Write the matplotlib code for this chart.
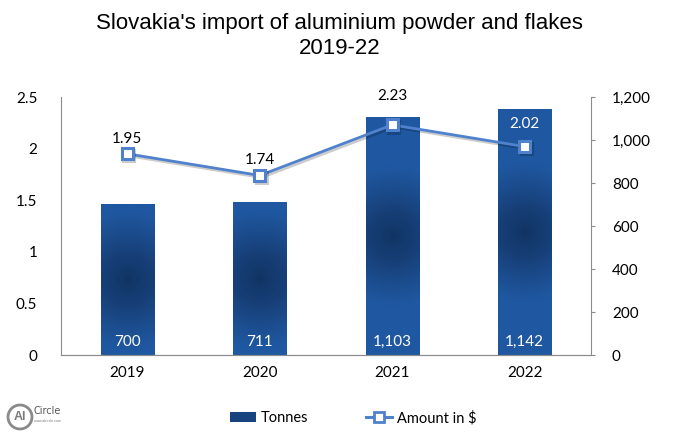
import numpy as np
import matplotlib.pyplot as plt
import matplotlib.patheffects as pe
from matplotlib.colors import LinearSegmentedColormap
from matplotlib.patches import Patch, Ellipse
from matplotlib.lines import Line2D

# data
years = ["2019", "2020", "2021", "2022"]
tonnes = [700, 711, 1103, 1142]
amount = [1.95, 1.74, 2.23, 2.02]
tonne_labels = ["700", "711", "1,103", "1,142"]

line_col = "#4f81cc"
bar_dark = "#0f3361"
bar_light = "#1f58a1"
grad = LinearSegmentedColormap.from_list("g", [bar_dark, "#173f77", bar_light])

fig = plt.figure(figsize=(6.79, 4.4), dpi=100)
ax = fig.add_axes([0.0898, 0.193, 0.7806, 0.5865])
ax2 = ax.twinx()
ax.set_zorder(ax2.get_zorder() + 1)
ax.patch.set_visible(False)

x = np.arange(len(years))
bw = 0.4

# bars on the right (tonnes) axis, with a radial gradient fill
bars = ax2.bar(x, tonnes, width=bw, color="none", edgecolor="none")
yy, xx = np.mgrid[-1:1:200j, -1:1:80j]
for b in bars:
    x0, w, h = b.get_x(), b.get_width(), b.get_height()
    # scale distances so the dark spot is roughly round
    sy = (h / 1200) * 258 / 2
    sx = w * 132.5 / 2
    d = np.sqrt((xx * sx) ** 2 + (yy * sy) ** 2) / 70
    d = np.clip(d, 0, 1) ** 0.7
    ax2.imshow(d, cmap=grad, extent=(x0, x0 + w, 0, h), aspect="auto",
               origin="lower", vmin=0, vmax=1, zorder=2)
ax2.set_xlim(-0.5, 3.5)
ax2.set_ylim(0, 1200)
ax2.set_yticks(range(0, 1201, 200))
ax2.set_yticklabels([f"{v:,}" for v in range(0, 1201, 200)])

for xi, lab in zip(x, tonne_labels):
    ax2.text(xi, 62, lab, color="white", ha="center", va="center", fontsize=11,
             family="Lato", zorder=5)

# line on the left (amount) axis
ax.plot(x, amount, color=line_col, lw=2.0, marker="s", markersize=8,
        markerfacecolor="white", markeredgecolor=line_col, markeredgewidth=2.2,
        path_effects=[pe.SimpleLineShadow(offset=(1.2, -1.5), alpha=0.2), pe.Normal()])
lift = [15, 15, 29, 23]  # label placement above each point, as in the original
for xi, v, dy in zip(x, amount, lift):
    c = "white" if xi == 3 else "black"
    ax.annotate(f"{v:.2f}", (xi, v), xytext=(0, dy), textcoords="offset pixels",
                ha="center", va="center", fontsize=11, family="Lato", color=c)
ax.set_xlim(-0.5, 3.5)
ax.set_ylim(0, 2.5)
ax.set_yticks([0, 0.5, 1, 1.5, 2, 2.5])
ax.set_yticklabels(["0", "0.5", "1", "1.5", "2", "2.5"])
ax.set_xticks(x)
ax.set_xticklabels(years)

for a in (ax, ax2):
    a.spines["top"].set_visible(False)
    a.spines["left"].set_color("#8c8c8c")
    a.spines["right"].set_color("#8c8c8c")
    a.spines["bottom"].set_color("#8c8c8c")
ax.spines["right"].set_visible(False)
ax2.spines["left"].set_visible(False)
ax.tick_params(axis="y", length=0, pad=17, labelsize=11)
ax.tick_params(axis="x", length=0, pad=8, labelsize=11)
ax2.tick_params(axis="y", length=3, color="#8c8c8c", pad=12, labelsize=11)
for t in ax.get_xticklabels() + ax.get_yticklabels() + ax2.get_yticklabels():
    t.set_family("Lato")

fig.text(0.5, 0.918, "Slovakia's import of aluminium powder and flakes\n2019-22",
         ha="center", va="center", fontsize=16, family="Liberation Sans",
         linespacing=1.25)

handles = [Patch(facecolor="#17447f", label="Tonnes"),
           Line2D([0], [0], color=line_col, lw=2.2, marker="s", markersize=7,
                  markerfacecolor="white", markeredgewidth=2, label="Amount in $")]
fig.legend(handles=handles, loc="center", bbox_to_anchor=(0.52, 0.05), ncol=2,
           frameon=False, prop={"family": "Lato", "size": 10.5},
           handlelength=1.8, columnspacing=4.0, handletextpad=0.3)

# small logo stand-in
cx, cy = 20 / 679, 1 - 417 / 440
fig.patches.append(Ellipse((cx, cy), 24 / 679, 24 / 440, transform=fig.transFigure,
                           facecolor="none", edgecolor="#8a8a8a", lw=2))
fig.text(cx, cy, "Al", ha="center", va="center", fontsize=9, fontweight="bold",
         color="#7a7a7a", family="Liberation Sans")
fig.text(34 / 679, 1 - 411 / 440, "Circle", ha="left", va="center", fontsize=7,
         color="#555555", family="Liberation Sans Narrow")
fig.text(34 / 679, 1 - 421 / 440, "www.alcircle.com", ha="left", va="center",
         fontsize=2.5, color="#777777", family="Liberation Sans")

fig.savefig("out.png", dpi=100)
